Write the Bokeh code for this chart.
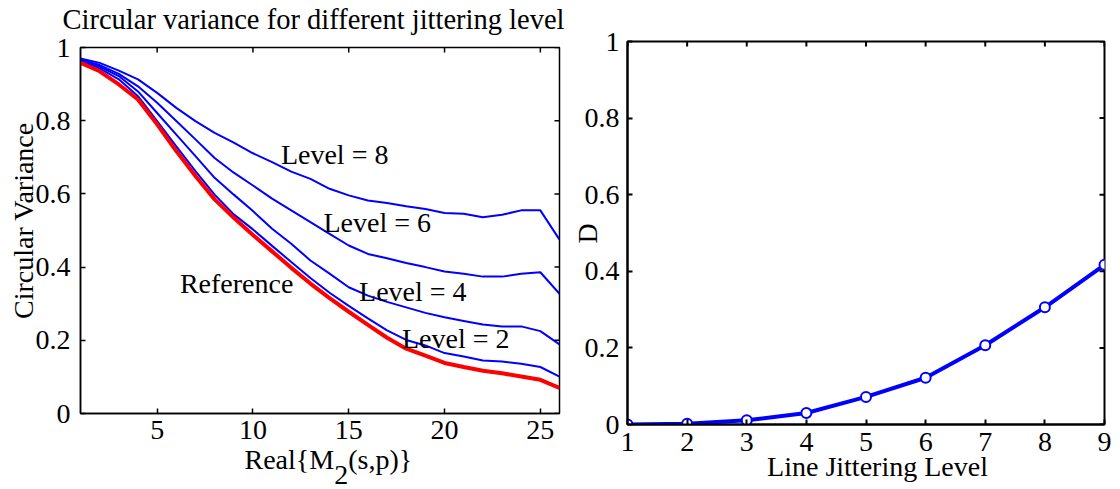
import math
from bokeh.plotting import figure
from bokeh.models import FixedTicker, Label, Range1d
from bokeh.embed import file_html
from bokeh.resources import INLINE

# ---------------- data ----------------
x_left = list(range(1, 27))
reference = [0.958, 0.935, 0.899, 0.858, 0.790, 0.717, 0.649, 0.585, 0.535, 0.488,
             0.443, 0.398, 0.355, 0.315, 0.278, 0.242, 0.207, 0.177, 0.158, 0.138,
             0.127, 0.117, 0.110, 0.101, 0.092, 0.070]
level2 = [0.963, 0.943, 0.913, 0.867, 0.799, 0.730, 0.662, 0.598, 0.544, 0.503,
          0.458, 0.414, 0.370, 0.330, 0.294, 0.260, 0.227, 0.201, 0.186, 0.165,
          0.156, 0.145, 0.142, 0.136, 0.127, 0.101]
level4 = [0.965, 0.948, 0.922, 0.880, 0.821, 0.762, 0.703, 0.644, 0.598, 0.553,
          0.505, 0.464, 0.418, 0.382, 0.345, 0.322, 0.305, 0.290, 0.275, 0.263,
          0.253, 0.243, 0.238, 0.238, 0.225, 0.189]
level6 = [0.967, 0.952, 0.928, 0.894, 0.849, 0.799, 0.749, 0.698, 0.658, 0.623,
          0.587, 0.555, 0.523, 0.491, 0.459, 0.436, 0.424, 0.411, 0.400, 0.388,
          0.382, 0.374, 0.374, 0.382, 0.386, 0.327]
level8 = [0.970, 0.958, 0.937, 0.913, 0.876, 0.835, 0.799, 0.767, 0.740, 0.711,
          0.687, 0.661, 0.641, 0.614, 0.596, 0.582, 0.575, 0.566, 0.559, 0.548,
          0.546, 0.536, 0.543, 0.555, 0.555, 0.475]

x_right = [1, 2, 3, 4, 5, 6, 7, 8, 9]
d_values = [0.0, 0.002, 0.011, 0.030, 0.072, 0.122, 0.207, 0.306, 0.417]

left_x_ticks = [5, 10, 15, 20, 25]
right_x_ticks = [1, 2, 3, 4, 5, 6, 7, 8, 9]
y_ticks = [0, 0.2, 0.4, 0.6, 0.8, 1]
y_tick_labels = ["0", "0.2", "0.4", "0.6", "0.8", "1"]

title_text = "Circular variance for different jittering level"
left_ylabel = "Circular Variance"
left_xlabel_parts = ["Real{M", "2", "(s,p)}"]
right_ylabel = "D"
right_xlabel = "Line Jittering Level"

FONT = "Liberation Serif"
FS = "28px"
TICK_LEN = 5
W, H = 1120, 489


def style_axes(p, xticks, lw, x_standoff, y_standoff, px_x, px_y):
    xr1 = p.x_range.end
    yr1 = p.y_range.end
    xa = p.below[0]
    ya = p.left[0]
    xa.ticker = FixedTicker(ticks=xticks)
    ya.ticker = FixedTicker(ticks=y_ticks)
    ya.major_label_overrides = dict(zip(y_ticks, y_tick_labels))
    for ax in (xa, ya):
        ax.axis_line_color = "black"
        ax.axis_line_width = lw
        ax.major_tick_line_color = "black"
        ax.major_tick_line_width = lw
        ax.major_tick_in = TICK_LEN
        ax.major_tick_out = 0
        ax.minor_tick_line_color = None
        ax.major_label_text_font = FONT
        ax.major_label_text_font_size = FS
        ax.major_label_text_color = "black"
    xa.major_label_standoff = x_standoff
    ya.major_label_standoff = y_standoff
    p.xgrid.grid_line_color = None
    p.ygrid.grid_line_color = None
    p.outline_line_color = "black"
    p.outline_line_width = lw
    # inward ticks on the top and right edges (box on)
    dy = TICK_LEN / px_y
    dx = TICK_LEN / px_x
    p.segment(x0=xticks, x1=xticks, y0=[yr1] * len(xticks), y1=[yr1 - dy] * len(xticks),
              line_color="black", line_width=lw)
    p.segment(x0=[xr1] * len(y_ticks), x1=[xr1 - dx] * len(y_ticks), y0=y_ticks, y1=y_ticks,
              line_color="black", line_width=lw)


def add_text(p, x, y, text, align="left", place=None, angle=0.0, size=FS):
    lab = Label(x=x, y=y, text=text, text_font=FONT, text_font_size=size,
                text_color="black", text_align=align, text_baseline="alphabetic",
                angle=angle)
    if place is None:
        p.add_layout(lab)
    else:
        p.add_layout(lab, place)


# ---------------- left figure (frame 80..559 x 47..413) ----------------
p1 = figure(width=W, height=H, output_backend="svg", toolbar_location=None,
            x_range=Range1d(1, 26), y_range=Range1d(0, 1),
            min_border_left=80, min_border_right=W - 559,
            min_border_top=47, min_border_bottom=H - 413)
p1.background_fill_color = "white"
p1.border_fill_color = "white"
p1.styles = {"position": "absolute", "left": "0px", "top": "0px"}

for ys in (level8, level6, level4, level2):
    p1.line(x_left, ys, line_color="#0000ff", line_width=2)
p1.line(x_left, reference, line_color="#ff0000", line_width=4)

style_axes(p1, left_x_ticks, 1.5, 7, 10, px_x=479 / 25, px_y=366)

add_text(p1, 13.16, 1.0765, title_text, align="center", place="above", size="28.5px")
add_text(p1, -2.0, 0.527, left_ylabel, align="center", place="right", angle=math.pi / 2)
add_text(p1, 9.559, -0.127, left_xlabel_parts[0], place="right")
add_text(p1, 14.24, -0.168, left_xlabel_parts[1], place="right")
add_text(p1, 14.97, -0.127, left_xlabel_parts[2], place="right")
add_text(p1, 11.46, 0.709, "Level = 8")
add_text(p1, 13.68, 0.5205, "Level = 6")
add_text(p1, 15.54, 0.333, "Level = 4")
add_text(p1, 17.78, 0.204, "Level = 2")
add_text(p1, 6.19, 0.354, "Reference")

# ---------------- right figure (frame 627..1104 x 41..424) ----------------
p2 = figure(width=W, height=H, output_backend="svg", toolbar_location=None,
            x_range=Range1d(1, 9), y_range=Range1d(0, 1),
            min_border_left=627, min_border_right=W - 1104,
            min_border_top=41, min_border_bottom=H - 424)
p2.background_fill_color = None
p2.border_fill_color = None
p2.styles = {"position": "absolute", "left": "0px", "top": "0px"}

p2.line(x_right, d_values, line_color="#0000ff", line_width=4)
p2.scatter(x_right, d_values, size=10, marker="circle", line_color="#0000ff",
           line_width=2, fill_color="white")

style_axes(p2, right_x_ticks, 2, 8, 8, px_x=477 / 8, px_y=383)

add_text(p2, 0.337, 0.4987, right_ylabel, align="center", place="left", angle=math.pi / 2)
add_text(p2, 5.193, -0.1084, right_xlabel, align="center", place="left")

open("out.html", "w").write(file_html([p1, p2], INLINE))
